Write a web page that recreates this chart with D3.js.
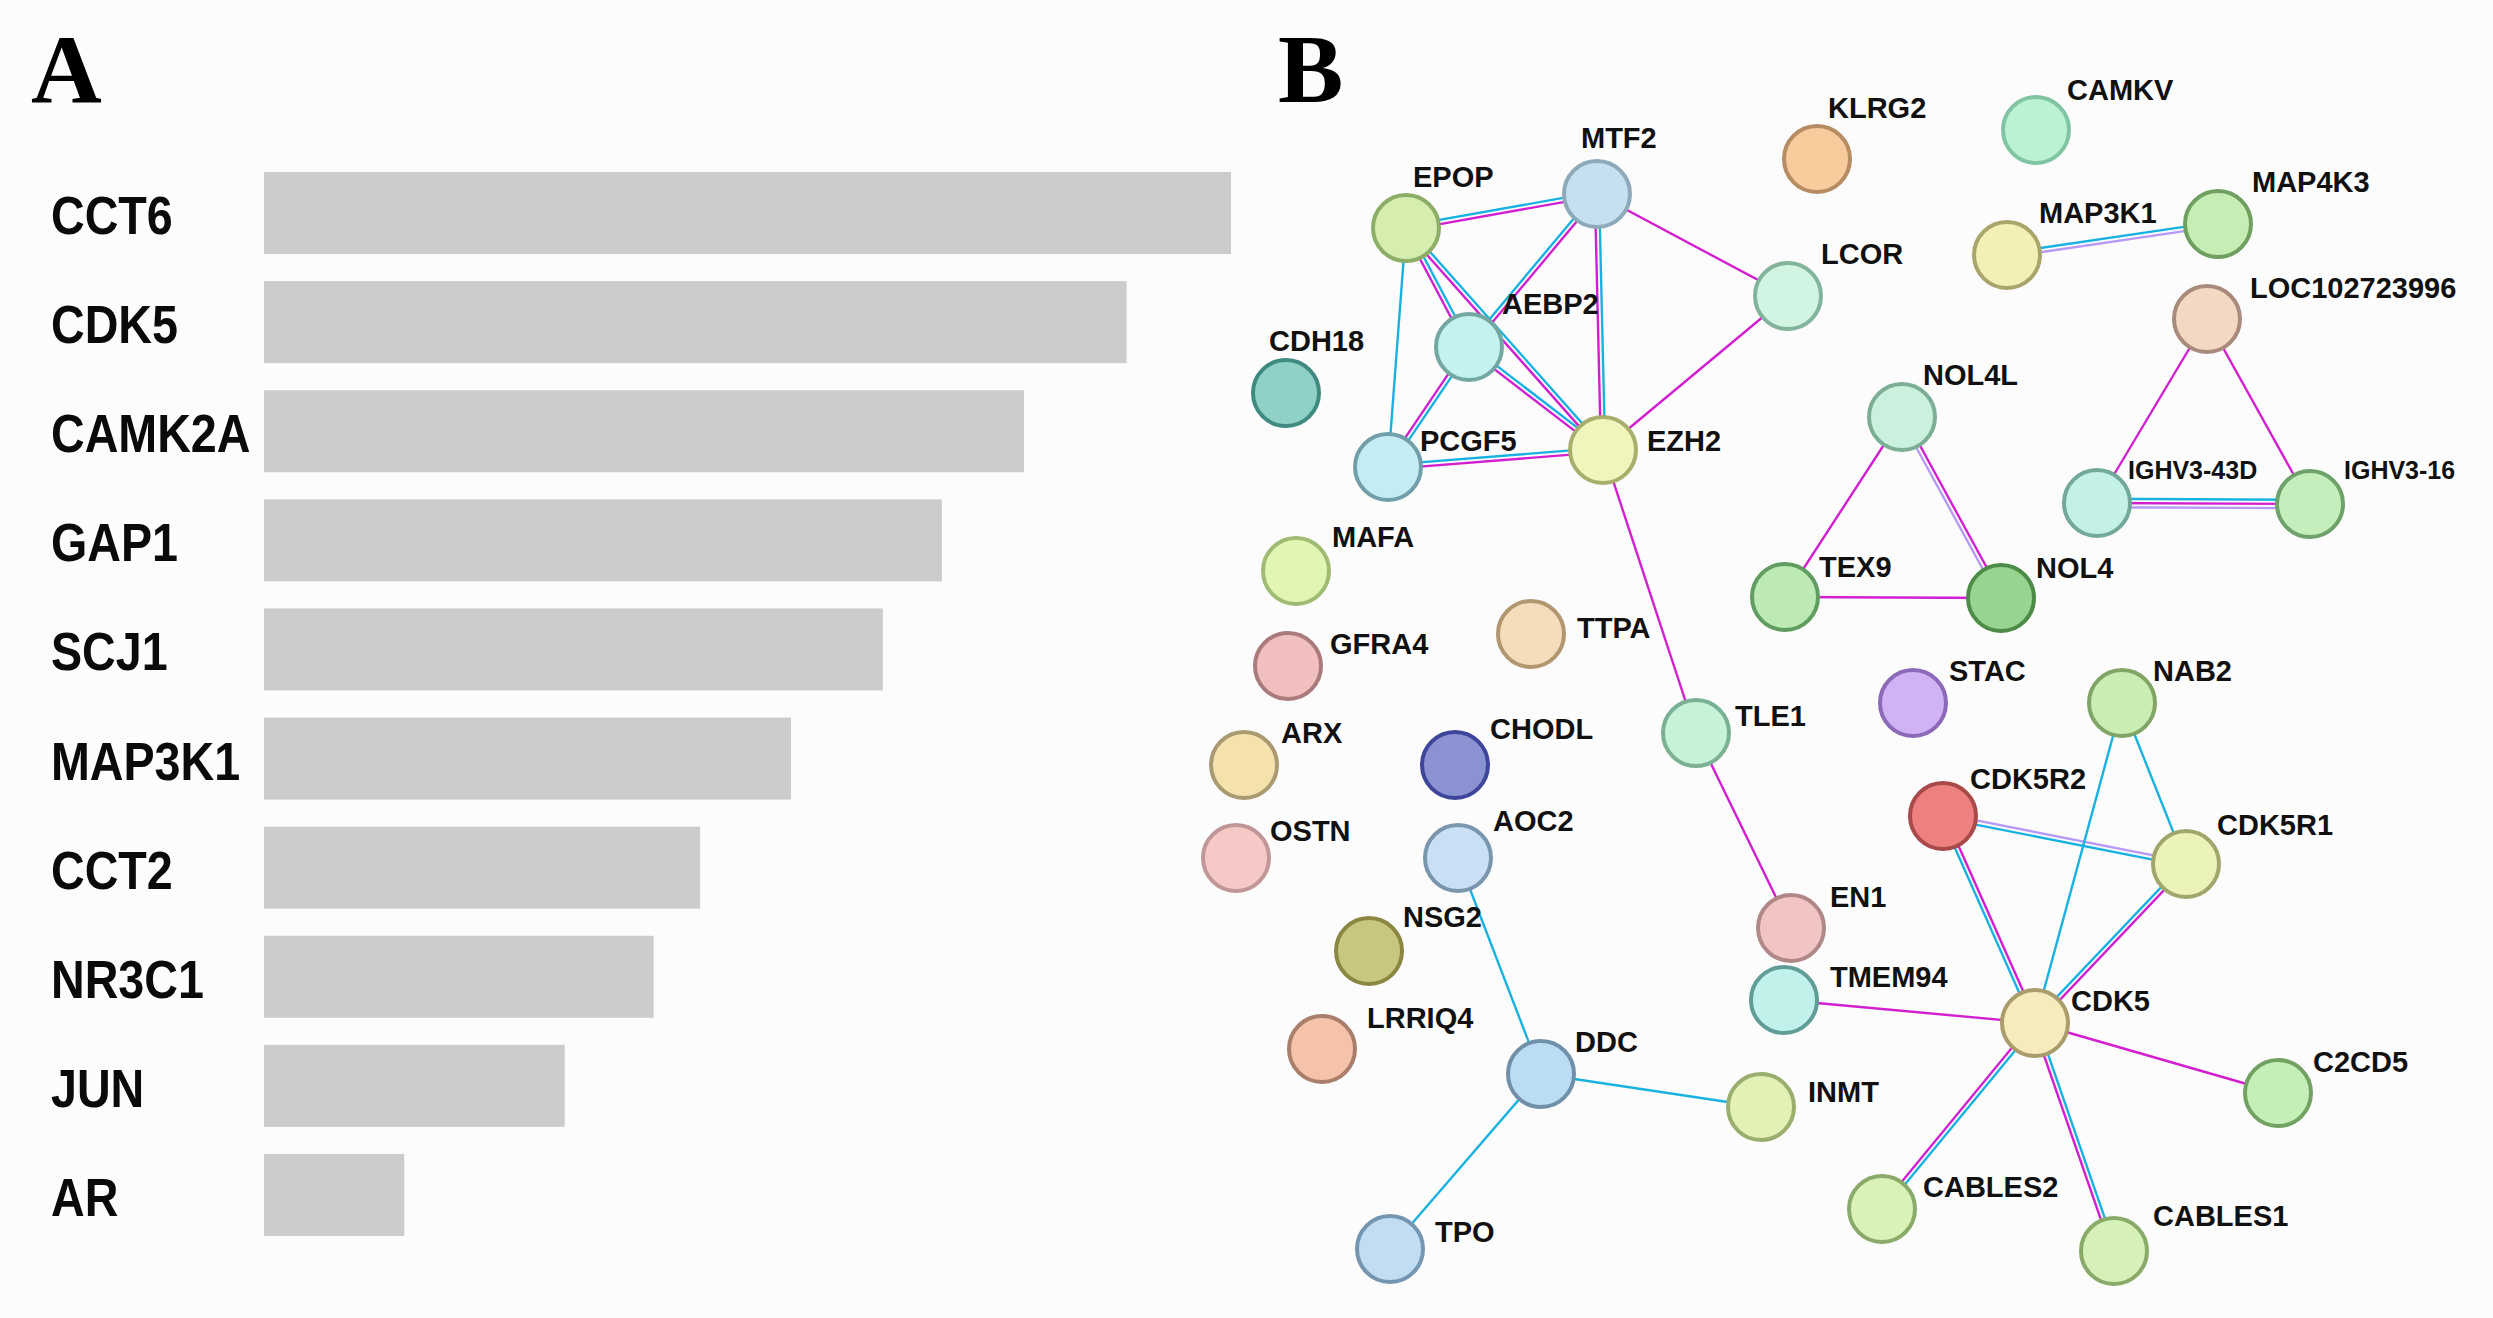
<!DOCTYPE html>
<html>
<head>
<meta charset="utf-8">
<script src="https://cdn.jsdelivr.net/npm/d3@7"></script>
<style>
  html, body { margin: 0; padding: 0; background: #fcfcfc; }
  svg { display: block; }
</style>
</head>
<body>
<div id="chart"></div>
<script>
// ---- panel A : ranked hub genes ----
var genes  = ["CCT6", "CDK5", "CAMK2A", "GAP1", "SCJ1", "MAP3K1", "CCT2", "NR3C1", "JUN", "AR"];
var scores = [10, 8.92, 7.86, 7.01, 6.40, 5.45, 4.51, 4.03, 3.11, 1.45];

// ---- panel B : STRING network ----
var proteins = ["EPOP", "MTF2", "AEBP2", "LCOR", "CDH18", "PCGF5", "EZH2", "MAFA", "TTPA", "TEX9",
                "GFRA4", "KLRG2", "CAMKV", "MAP3K1", "MAP4K3", "LOC102723996", "NOL4L", "IGHV3-43D", "IGHV3-16", "NOL4",
                "ARX", "CHODL", "OSTN", "AOC2", "TLE1", "EN1", "NSG2", "TMEM94", "LRRIQ4", "DDC",
                "INMT", "TPO", "STAC", "NAB2", "CDK5R2", "CDK5R1", "CDK5", "C2CD5", "CABLES2", "CABLES1"];
// layout coordinates of the network (string-db export)
var layoutX = [206, 397, 269, 588, 86, 188, 403, 96, 331, 585,
               88, 617, 836, 807, 1018, 1007, 702, 897, 1110, 801,
               44, 255, 36, 258, 496, 591, 169, 584, 122, 341,
               561, 190, 713, 922, 743, 986, 835, 1078, 682, 914];
var layoutY = [228, 194, 347, 296, 393, 467, 450, 571, 634, 597,
               666, 159, 130, 255, 224, 319, 417, 503, 504, 598,
               765, 765, 858, 858, 733, 928, 951, 1000, 1049, 1074,
               1107, 1249, 703, 703, 816, 864, 1023, 1093, 1209, 1251];
// where each name tag sits relative to its node
var tagDX = [7, -16, 33, 33, -17, 32, 44, 36, 46, 34,
             42, 11, 31, 32, 34, 43, 21, 31, 34, 35,
             37, 35, 34, 35, 39, 39, 34, 46, 45, 34,
             47, 45, 36, 31, 27, 31, 36, 35, 41, 39];
var tagDY = [-41, -46, -33, -32, -42, -16, 1, -24, 4, -20,
             -12, -41, -30, -32, -32, -21, -32, -24, -25, -20,
             -22, -26, -17, -27, -7, -21, -24, -13, -21, -22,
             -5, -7, -22, -22, -27, -29, -12, -21, -12, -25];
var nodeFills   = ["#d5eeaf", "#c4e0f1", "#c4f3ef", "#d2f4e2", "#8fd1c7", "#c4ecf3", "#eff5bb", "#e0f6b2", "#f5ddbb", "#bce9b4",
                   "#f2bfbf", "#f8cb9d", "#bbf2d4", "#f3efb6", "#c6edb3", "#f3d8c3", "#caf1de", "#c4f1e7", "#c4efbd", "#97d48f",
                   "#f4e1ab", "#8a92d2", "#f6c8c6", "#c8dff4", "#c6f3d8", "#f2c4c4", "#c9c77f", "#c1f1eb", "#f5c2aa", "#badcf4",
                   "#e3f1b6", "#c2ddf2", "#d0b3f5", "#cbedb3", "#ee8080", "#ebf3ba", "#f5ebbb", "#c6efb7", "#d9f3b7", "#d6f1b7"];
var nodeStrokes = ["#8cae67", "#8ea9b9", "#72a8a1", "#82b49c", "#3f8b81", "#719fa9", "#a8ae6c", "#a0bb72", "#b1966f", "#619c61",
                   "#aa7b7b", "#b68c63", "#80c4a1", "#a9a56b", "#6fa060", "#a98a7c", "#7cae95", "#72a99a", "#6ea26a", "#4d8b49",
                   "#aa9a72", "#3e469b", "#c09696", "#7a96ad", "#7ab192", "#b18888", "#8b8742", "#609d99", "#a97e6a", "#7090aa",
                   "#9aaf6e", "#7596b1", "#8c6ab9", "#80a566", "#a94a4a", "#a0a66c", "#ab9c6c", "#72a262", "#8aaa6a", "#8aaa6a"];
var smallTags = ["IGHV3-43D", "IGHV3-16"];

// interactions : source, target, evidence (c = curated db, m = experimental, h = homology)
var linkSource = ["EPOP", "EPOP", "EPOP", "EPOP", "MTF2", "MTF2", "MTF2", "LCOR", "AEBP2", "AEBP2",
                  "PCGF5", "EZH2", "TLE1", "TEX9", "TEX9", "NOL4L", "MAP3K1", "LOC102723996", "LOC102723996", "IGHV3-43D",
                  "AOC2", "DDC", "DDC", "CDK5R2", "NAB2", "NAB2", "CDK5", "CDK5", "CDK5", "CDK5",
                  "CDK5", "CDK5"];
var linkTarget = ["MTF2", "PCGF5", "AEBP2", "EZH2", "AEBP2", "EZH2", "LCOR", "EZH2", "PCGF5", "EZH2",
                  "EZH2", "TLE1", "EN1", "NOL4L", "NOL4", "NOL4", "MAP4K3", "IGHV3-43D", "IGHV3-16", "IGHV3-16",
                  "DDC", "INMT", "TPO", "CDK5R1", "CDK5R1", "CDK5", "CDK5R2", "CDK5R1", "CABLES2", "CABLES1",
                  "TMEM94", "C2CD5"];
var linkEvidence = ["cm", "c", "cm", "cm", "mc", "cm", "m", "m", "cm", "cm",
                    "cm", "m", "m", "m", "m", "mh", "ch", "m", "m", "cmh",
                    "c", "c", "c", "hc", "c", "c", "cm", "cm", "cm", "cm",
                    "m", "m"];

var W = 2493, H = 1318;

var svg = d3.select("#chart")
            .append("svg")
            .attr("width", W)
            .attr("height", H)
            .style("background", "#fcfcfc");

var panelFont = "'Liberation Serif', 'Times New Roman', serif";
var labelFont = "'Liberation Sans', Arial, Helvetica, sans-serif";

//////////// panel A ////////////
svg.append("text")
   .attr("x", 31)
   .attr("y", 102)
   .style("font-family", panelFont)
   .style("font-weight", "bold")
   .style("font-size", "98px")
   .attr("fill", "#000")
   .text("A");

var x = d3.scaleLinear()
          .domain([0, 10])
          .range([264, 1231]);

var y = d3.scaleBand()
          .domain(genes)
          .range([172, 1236])
          .paddingInner(0.248)
          .paddingOuter(0);

var bars = svg.append("g").attr("class", "bars");

bars.selectAll("rect")
    .data(genes)
    .enter().append("rect")
    .attr("x", x(0))
    .attr("y", function(d) { return y(d); })
    .attr("width", function(d, i) { return x(scores[i]) - x(0); })
    .attr("height", y.bandwidth())
    .attr("fill", "#cccccc");

bars.selectAll("text")
    .data(genes)
    .enter().append("text")
    .attr("transform", function(d) {
        return "translate(51," + (y(d) + y.bandwidth() / 2 + 21) + ") scale(0.88,1)"; })
    .style("font-family", labelFont)
    .style("font-weight", "bold")
    .style("font-size", "53px")
    .attr("fill", "#0a0a0a")
    .text(function(d) { return d; });

//////////// panel B ////////////
svg.append("text")
   .attr("x", 1278)
   .attr("y", 102)
   .style("font-family", panelFont)
   .style("font-weight", "bold")
   .style("font-size", "98px")
   .attr("fill", "#000")
   .text("B");

var nx = d3.scaleLinear().domain([0, 1293]).range([1200, 2493]);
var ny = d3.scaleLinear().domain([0, 1318]).range([0, 1318]);

var fill   = d3.scaleOrdinal(proteins, nodeFills);
var stroke = d3.scaleOrdinal(proteins, nodeStrokes);
var evidenceColor = d3.scaleOrdinal(["c", "m", "h"], ["#19b2e0", "#d21fd0", "#b79af6"]);

var nodes = proteins.map(function(p, i) {
    return { id: p, x: layoutX[i], y: layoutY[i], dx: tagDX[i], dy: tagDY[i] };
});
var byId = {};
nodes.forEach(function(n) { byId[n.id] = n; });

// one line per evidence channel, drawn side by side
var strands = [];
linkSource.forEach(function(s, i) {
    var a = byId[s], b = byId[linkTarget[i]];
    var x1 = nx(a.x), y1 = ny(a.y), x2 = nx(b.x), y2 = ny(b.y);
    var len = Math.hypot(x2 - x1, y2 - y1);
    var px = -(y2 - y1) / len, py = (x2 - x1) / len;
    var ev = linkEvidence[i].split("");
    var gap = 4.2;
    ev.forEach(function(e, k) {
        var off = (k - (ev.length - 1) / 2) * gap;
        strands.push({ e: e, x1: x1 + px * off, y1: y1 + py * off, x2: x2 + px * off, y2: y2 + py * off });
    });
});

var gLinks = svg.append("g").attr("class", "links");
gLinks.selectAll("line")
      .data(strands)
      .enter().append("line")
      .attr("x1", function(d) { return d.x1; })
      .attr("y1", function(d) { return d.y1; })
      .attr("x2", function(d) { return d.x2; })
      .attr("y2", function(d) { return d.y2; })
      .attr("stroke", function(d) { return evidenceColor(d.e); })
      .attr("stroke-width", 2.4);

var gNodes = svg.append("g").attr("class", "nodes");
gNodes.selectAll("circle")
      .data(nodes)
      .enter().append("circle")
      .attr("cx", function(d) { return nx(d.x); })
      .attr("cy", function(d) { return ny(d.y); })
      .attr("r", 33)
      .attr("fill", function(d) { return fill(d.id); })
      .attr("stroke", function(d) { return stroke(d.id); })
      .attr("stroke-width", 4);

var gTags = svg.append("g").attr("class", "tags");
gTags.selectAll("text")
     .data(nodes)
     .enter().append("text")
     .attr("x", function(d) { return nx(d.x + d.dx); })
     .attr("y", function(d) { return ny(d.y + d.dy); })
     .style("font-family", labelFont)
     .style("font-weight", "bold")
     .style("font-size", function(d) { return smallTags.indexOf(d.id) >= 0 ? "25px" : "29px"; })
     .attr("fill", "#111")
     .text(function(d) { return d.id; });
</script>
</body>
</html>
